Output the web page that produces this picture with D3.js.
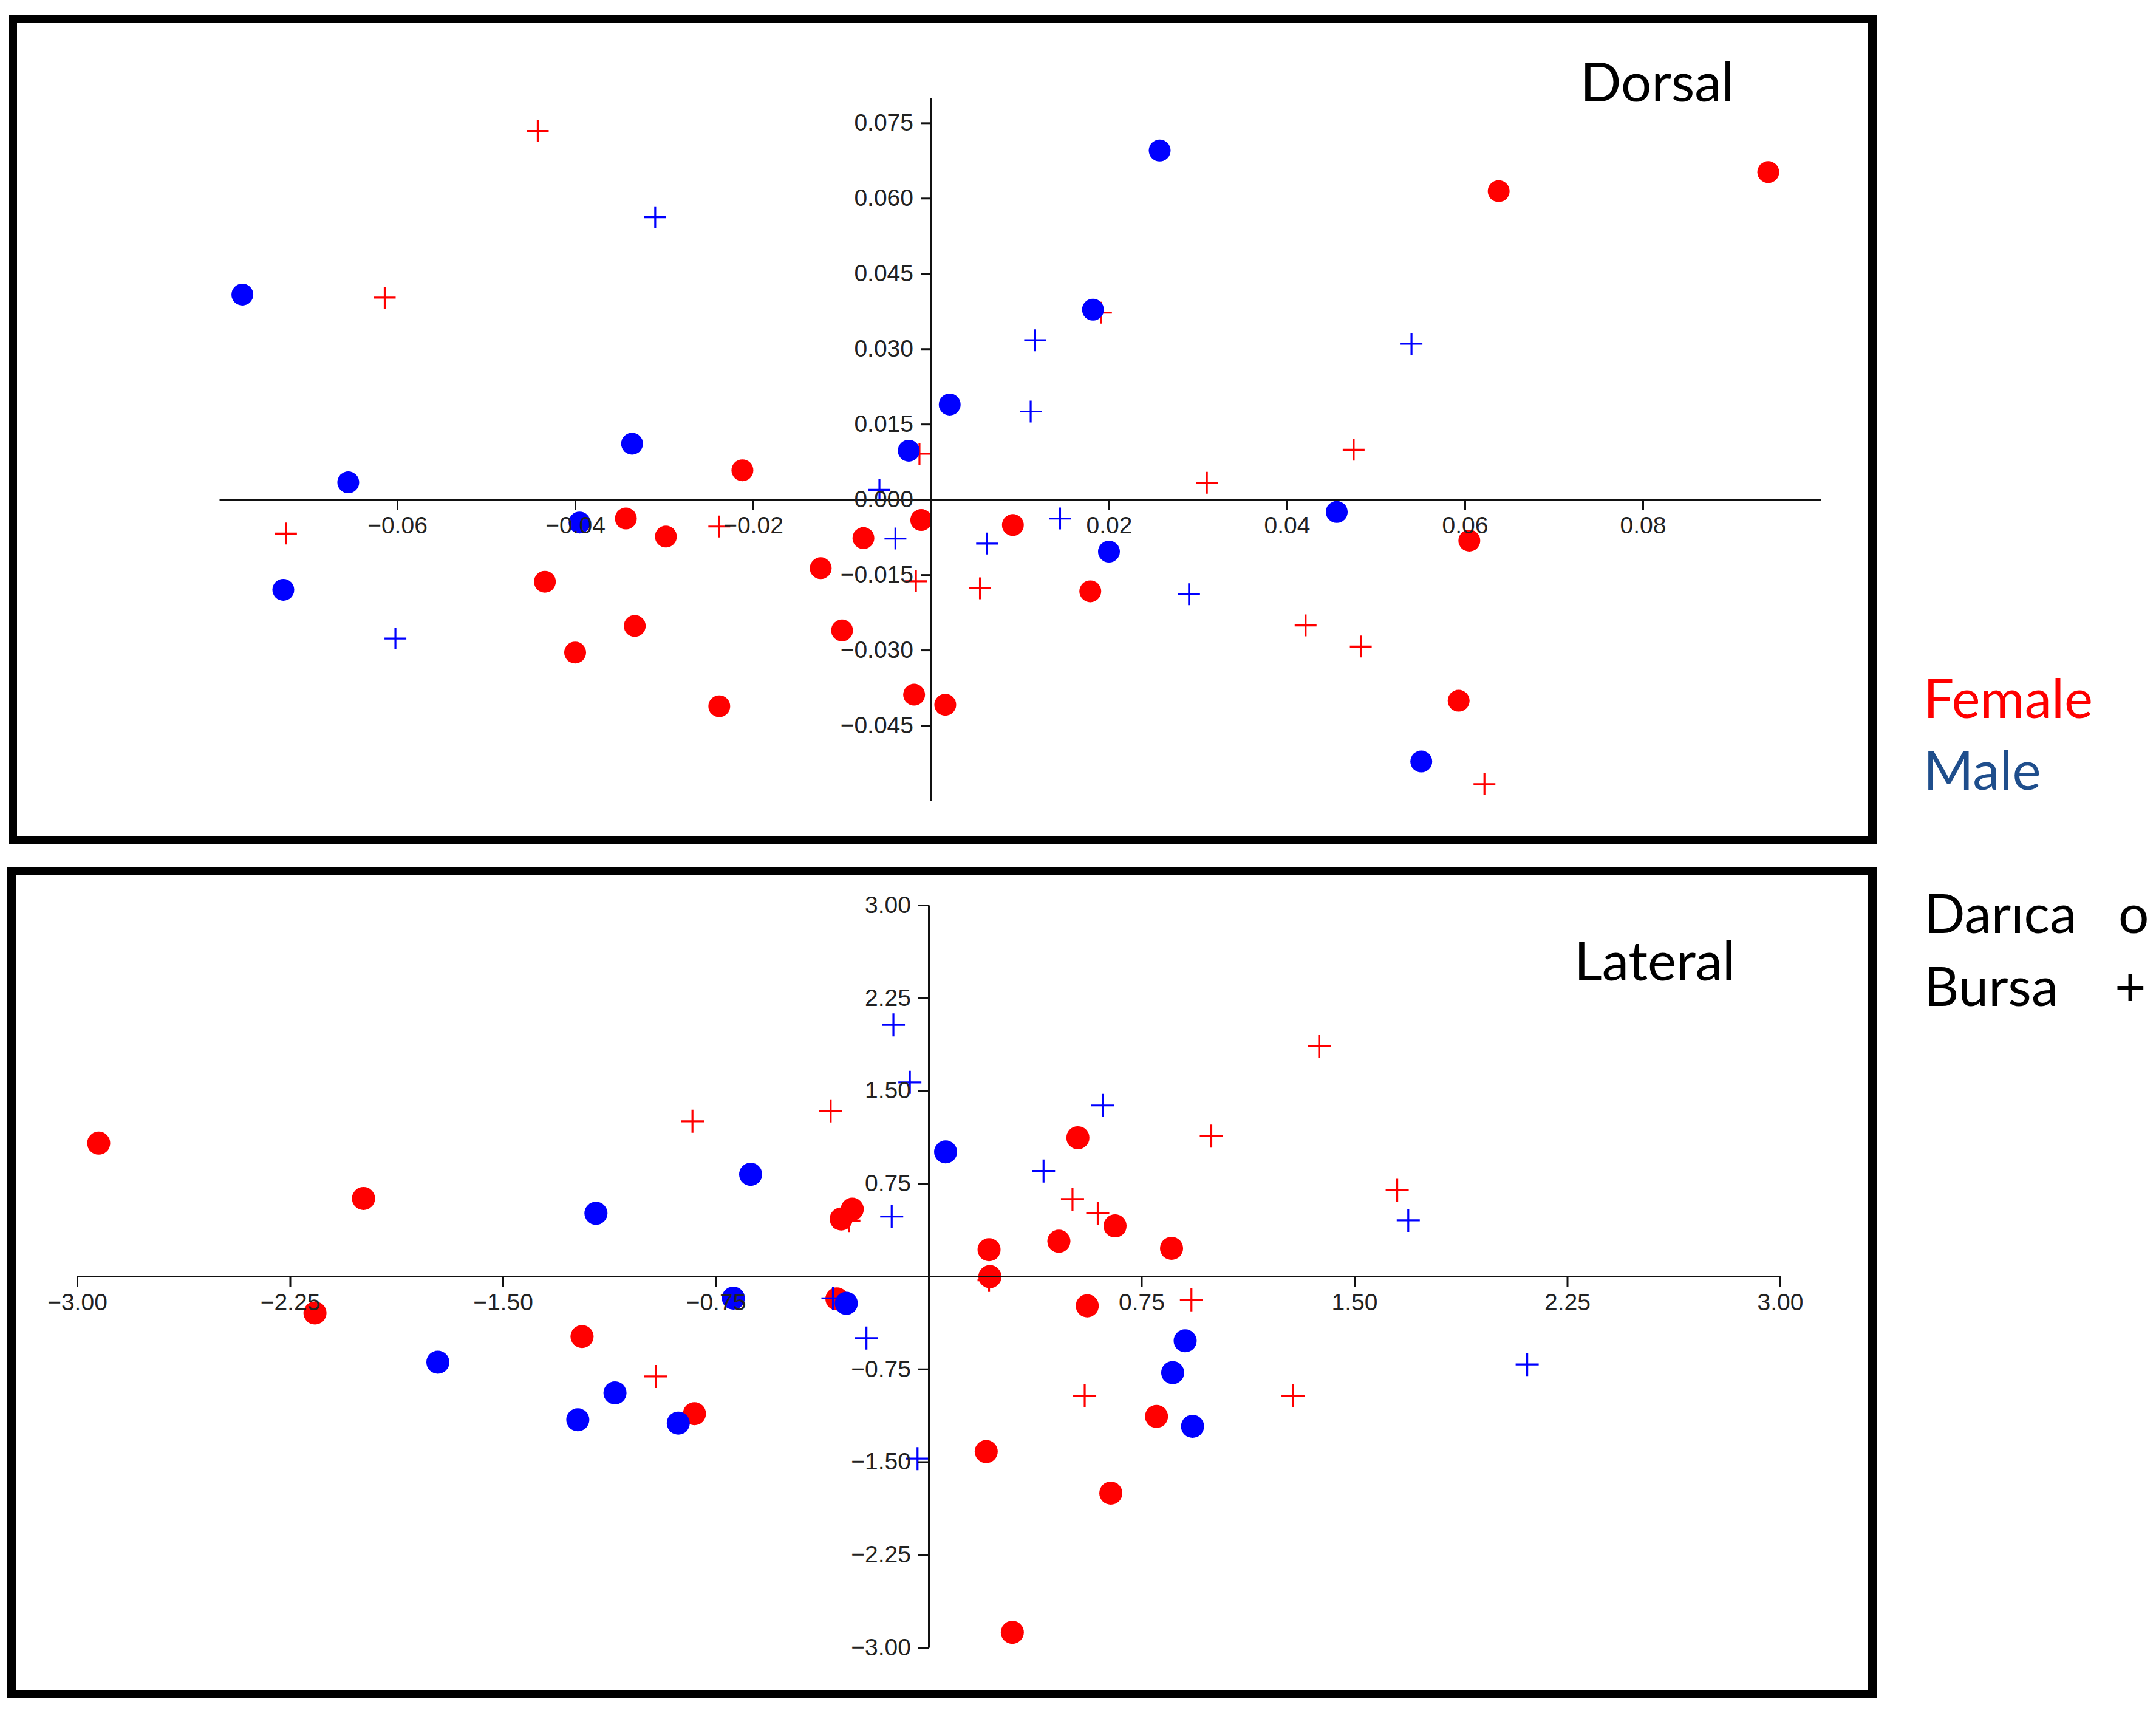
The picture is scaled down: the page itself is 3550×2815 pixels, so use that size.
<!DOCTYPE html>
<html lang="en">
<head>
<meta charset="UTF-8">
<title>Dorsal / Lateral</title>
<script src="https://d3js.org/d3.v7.min.js"></script>
<style>
  body { margin: 0; background: #fff; }
  .tick text { font-family: "Liberation Sans", Arial, sans-serif; font-size: 39px; fill: #222; }
  .title, .legend { font-family: Lato, "Open Sans", sans-serif; font-size: 89px; }
</style>
</head>
<body>
<svg id="chart" width="3550" height="2815"></svg>
<script>
// Dorsal panel: [x, y] pairs
const dorsalFemaleDarica = [
  [-0.0212, 0.0058], [-0.0343, -0.0038], [-0.0298, -0.0074], [-0.0076, -0.0077],
  [-0.0011, -0.0041], [-0.0434, -0.0164], [-0.0124, -0.0137], [-0.0333, -0.0252],
  [-0.0400, -0.0305], [-0.0100, -0.0261], [-0.0238, -0.0412], [-0.0019, -0.0389],
  [0.0016, -0.0409], [0.0638, 0.0614], [0.0941, 0.0652], [0.0092, -0.0051],
  [0.0605, -0.0082], [0.0179, -0.0183], [0.0593, -0.0401]
];
const dorsalFemaleBursa = [
  [-0.0442, 0.0734], [-0.0614, 0.0402], [-0.0013, 0.0091], [-0.0725, -0.0068],
  [-0.0238, -0.0054], [-0.0017, -0.0163], [0.0191, 0.0372], [0.0475, 0.0099],
  [0.0310, 0.0033], [0.0055, -0.0177], [0.0421, -0.0251], [0.0483, -0.0293],
  [0.0622, -0.0567]
];
const dorsalMaleDarica = [
  [-0.0774, 0.0408], [-0.0336, 0.0111], [0.0021, 0.0189], [-0.0025, 0.0097],
  [-0.0655, 0.0034], [-0.0395, -0.0046], [-0.0728, -0.0180], [0.0257, 0.0695],
  [0.0182, 0.0378], [0.0456, -0.0025], [0.0200, -0.0104], [0.0551, -0.0522]
];
const dorsalMaleBursa = [
  [-0.0310, 0.0562], [-0.0058, 0.0019], [-0.0040, -0.0078], [-0.0602, -0.0277],
  [0.0117, 0.0317], [0.0540, 0.0310], [0.0112, 0.0175], [0.0145, -0.0038],
  [0.0063, -0.0088], [0.0290, -0.0189]
];

// Lateral panel
const lateralFemaleDarica = [
  [-2.924, 1.076], [-1.991, 0.629], [-2.162, -0.297], [-1.221, -0.487],
  [-0.825, -1.111], [-0.269, 0.542], [-0.308, 0.463], [-0.323, -0.183],
  [0.526, 1.120], [0.657, 0.407], [0.459, 0.283], [0.856, 0.226],
  [0.213, 0.215], [0.216, -0.003], [0.559, -0.239], [0.803, -1.133],
  [0.203, -1.417], [0.642, -1.753], [0.295, -2.878]
];
const lateralFemaleBursa = [
  [-0.961, -0.810], [-0.832, 1.253], [-0.345, 1.337], [-0.281, 0.450],
  [1.376, 1.859], [0.996, 1.133], [0.507, 0.624], [0.596, 0.509],
  [0.213, -0.033], [1.651, 0.695], [0.926, -0.190], [0.550, -0.965],
  [1.284, -0.965]
];
const lateralMaleDarica = [
  [-1.729, -0.695], [-1.172, 0.509], [-1.105, -0.943], [-1.236, -1.160],
  [-0.882, -1.187], [-0.627, 0.824], [-0.688, -0.177], [0.060, 1.005],
  [-0.290, -0.219], [0.904, -0.522], [0.860, -0.779], [0.930, -1.213]
];
const lateralMaleBursa = [
  [-0.124, 2.032], [-0.066, 1.567], [-0.130, 0.483], [-0.337, -0.178],
  [-0.219, -0.500], [-0.039, -1.474], [0.614, 1.381], [0.405, 0.851],
  [1.690, 0.452], [2.109, -0.713]
];

const dorsalXTicks = [-0.06, -0.04, -0.02, 0.02, 0.04, 0.06, 0.08];
const dorsalYTicks = [0.075, 0.06, 0.045, 0.03, 0.015, 0, -0.015, -0.03, -0.045];
const lateralXTicks = [-3, -2.25, -1.5, -0.75, 0.75, 1.5, 2.25, 3];
const lateralYTicks = [3, 2.25, 1.5, 0.75, -0.75, -1.5, -2.25, -3];

const sexColors = { Female: "#ff0000", Male: "#0000ff" };

const svg = d3.select("#chart");
svg.append("rect").attr("width", 3550).attr("height", 2815).attr("fill", "#fff");

const panels = [
  {
    title: "Dorsal", titleX: 2602, titleY: 167,
    frame: [21, 31, 3062, 1352],
    xDomain: [-0.08, 0.10], xRange: [361, 2998],
    yDomain: [-0.06, 0.08], yRange: [1318, 161],
    xTicks: dorsalXTicks, yTicks: dorsalYTicks, xFmt: ".2f", yFmt: ".3f",
    r: 18, h: 18,
    groups: [
      { data: dorsalFemaleBursa, sex: "Female", shape: "cross" },
      { data: dorsalFemaleDarica, sex: "Female", shape: "dot" },
      { data: dorsalMaleBursa, sex: "Male", shape: "cross" },
      { data: dorsalMaleDarica, sex: "Male", shape: "dot" }
    ]
  },
  {
    title: "Lateral", titleX: 2592, titleY: 1614,
    frame: [19, 1434, 3064, 1355],
    xDomain: [-3, 3], xRange: [127, 2931],
    yDomain: [-3, 3], yRange: [2712, 1490],
    xTicks: lateralXTicks, yTicks: lateralYTicks, xFmt: ".2f", yFmt: ".2f",
    r: 19, h: 19,
    groups: [
      { data: lateralFemaleBursa, sex: "Female", shape: "cross" },
      { data: lateralFemaleDarica, sex: "Female", shape: "dot" },
      { data: lateralMaleBursa, sex: "Male", shape: "cross" },
      { data: lateralMaleDarica, sex: "Male", shape: "dot" }
    ]
  }
];

panels.forEach(p => {
  const x = d3.scaleLinear().domain(p.xDomain).range(p.xRange);
  const y = d3.scaleLinear().domain(p.yDomain).range(p.yRange);
  const g = svg.append("g");

  // frame
  g.append("rect")
    .attr("x", p.frame[0]).attr("y", p.frame[1])
    .attr("width", p.frame[2]).attr("height", p.frame[3])
    .attr("fill", "none").attr("stroke", "#000").attr("stroke-width", 14);

  // points
  p.groups.forEach(grp => {
    const color = sexColors[grp.sex];
    if (grp.shape === "dot") {
      g.append("g").selectAll("circle")
        .data(grp.data)
        .enter().append("circle")
        .attr("cx", d => x(d[0]))
        .attr("cy", d => y(d[1]))
        .attr("r", p.r)
        .attr("fill", color);
    } else {
      g.append("g").selectAll("path")
        .data(grp.data)
        .enter().append("path")
        .attr("d", d => `M${x(d[0]) - p.h},${y(d[1])}h${2 * p.h}M${x(d[0])},${y(d[1]) - p.h}v${2 * p.h}`)
        .attr("fill", "none")
        .attr("stroke", color)
        .attr("stroke-width", 3.2);
    }
  });

  // axes cross at the origin, drawn over the points
  const xAxis = g.append("g")
    .attr("transform", `translate(0,${y(0)})`)
    .call(d3.axisBottom(x).tickValues(p.xTicks).tickFormat(d3.format(p.xFmt))
      .tickSize(17).tickPadding(11).tickSizeOuter(0));
  const yAxis = g.append("g")
    .attr("transform", `translate(${x(0)},0)`)
    .call(d3.axisLeft(y).tickValues(p.yTicks).tickFormat(d3.format(p.yFmt))
      .tickSize(17).tickPadding(12).tickSizeOuter(0));
  [xAxis, yAxis].forEach(a => {
    a.attr("font-size", null).attr("font-family", null);
    a.selectAll("path, line").attr("stroke", "#111").attr("stroke-width", 3);
  });

  g.append("text")
    .attr("class", "title")
    .attr("x", p.titleX).attr("y", p.titleY)
    .text(p.title);
});

// legend on the right
const legendRows = [
  { text: "Female", x: 3167, y: 1182, color: "#ff0000" },
  { text: "Male", x: 3167, y: 1300, color: "#1f4e8c" },
  { text: "Darıca", x: 3168, y: 1536, color: "#000" },
  { text: "o", x: 3488, y: 1536, color: "#000" },
  { text: "Bursa", x: 3168, y: 1656, color: "#000" },
  { text: "+", x: 3482, y: 1656, color: "#000" }
];
svg.append("g").selectAll("text")
  .data(legendRows)
  .enter().append("text")
  .attr("class", "legend")
  .attr("x", d => d.x)
  .attr("y", d => d.y)
  .attr("fill", d => d.color)
  .text(d => d.text);
</script>
</body>
</html>
